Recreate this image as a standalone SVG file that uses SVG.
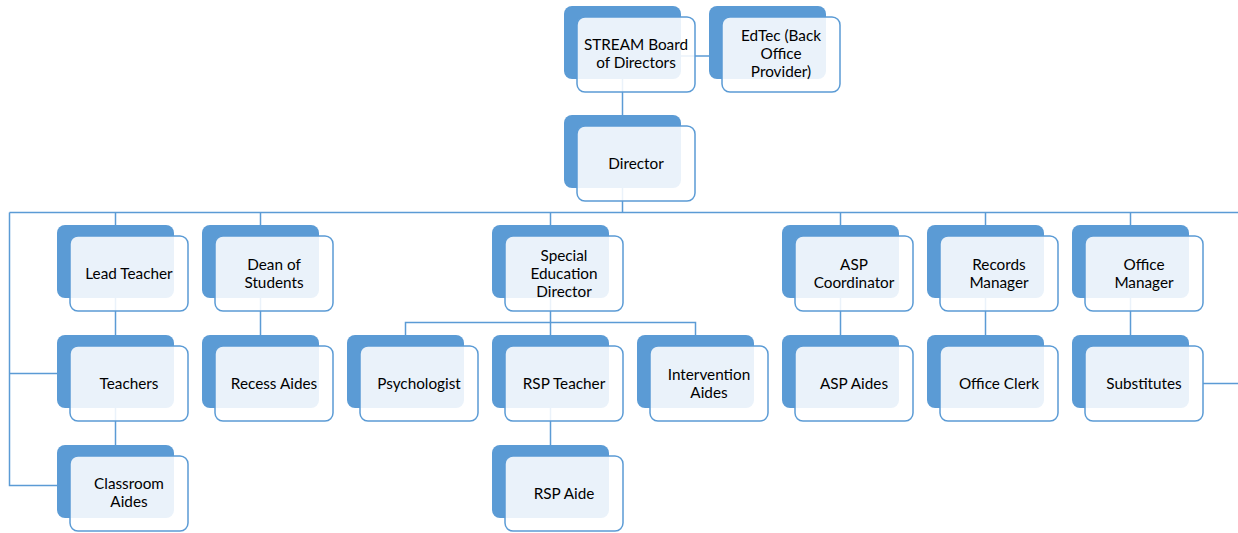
<svg xmlns="http://www.w3.org/2000/svg" width="1238" height="533" viewBox="0 0 1238 533">
<style>
.bk{fill:#5B9BD5}
.fr{fill:#FFFFFF;fill-opacity:0.87;stroke:#5B9BD5;stroke-width:1.5}
.t{font-family:Lato,"Open Sans","Liberation Sans",sans-serif;font-size:15.3px;fill:#000;text-anchor:middle}
.c{fill:none;stroke:#5B9BD5;stroke-width:1.5}
</style>
<rect width="1238" height="533" fill="#fff"/>
<g id="connectors">
<path class="c" d="M622.5 79V115M681 56H709M622.5 188V212.5M9.5 212.5H1238M115.5 212.5V225M260.5 212.5V225M550.5 212.5V225M840.5 212.5V225M985.5 212.5V225M1130.5 212.5V225"/>
<path class="c" d="M9.5 212.5V485.5H57M9.5 373.5H57"/>
<path class="c" d="M115.5 298V335M115.5 408V445M260.5 298V335M550.5 298V335M405.5 335V322.5H695.5V335M550.5 408V445M840.5 298V335M985.5 298V335M1130.5 298V335M1203 383.5H1238"/>
</g>
<g id="n-board"><rect class="bk" x="564" y="6" width="117" height="73" rx="8"/><rect class="fr" x="577" y="17" width="118" height="75" rx="8"/><text class="t" x="636" y="50">STREAM Board</text><text class="t" x="636" y="68">of Directors</text></g>
<g id="n-edtec"><rect class="bk" x="709" y="6" width="117" height="73" rx="8"/><rect class="fr" x="722" y="17" width="118" height="75" rx="8"/><text class="t" x="781" y="41">EdTec (Back</text><text class="t" x="781" y="59">Office</text><text class="t" x="781" y="77">Provider)</text></g>
<g id="n-director"><rect class="bk" x="564" y="115" width="117" height="73" rx="8"/><rect class="fr" x="577" y="126" width="118" height="75" rx="8"/><text class="t" x="636" y="169">Director</text></g>
<g id="n-lead"><rect class="bk" x="57" y="225" width="117" height="73" rx="8"/><rect class="fr" x="70" y="236" width="118" height="75" rx="8"/><text class="t" x="129" y="279">Lead Teacher</text></g>
<g id="n-teachers"><rect class="bk" x="57" y="335" width="117" height="73" rx="8"/><rect class="fr" x="70" y="346" width="118" height="75" rx="8"/><text class="t" x="129" y="389">Teachers</text></g>
<g id="n-classroom"><rect class="bk" x="57" y="445" width="117" height="73" rx="8"/><rect class="fr" x="70" y="456" width="118" height="75" rx="8"/><text class="t" x="129" y="489">Classroom</text><text class="t" x="129" y="507">Aides</text></g>
<g id="n-dean"><rect class="bk" x="202" y="225" width="117" height="73" rx="8"/><rect class="fr" x="215" y="236" width="118" height="75" rx="8"/><text class="t" x="274" y="270">Dean of</text><text class="t" x="274" y="288">Students</text></g>
<g id="n-recess"><rect class="bk" x="202" y="335" width="117" height="73" rx="8"/><rect class="fr" x="215" y="346" width="118" height="75" rx="8"/><text class="t" x="274" y="389">Recess Aides</text></g>
<g id="n-sped"><rect class="bk" x="492" y="225" width="117" height="73" rx="8"/><rect class="fr" x="505" y="236" width="118" height="75" rx="8"/><text class="t" x="564" y="261">Special</text><text class="t" x="564" y="279">Education</text><text class="t" x="564" y="297">Director</text></g>
<g id="n-psych"><rect class="bk" x="347" y="335" width="117" height="73" rx="8"/><rect class="fr" x="360" y="346" width="118" height="75" rx="8"/><text class="t" x="419" y="389">Psychologist</text></g>
<g id="n-rsp"><rect class="bk" x="492" y="335" width="117" height="73" rx="8"/><rect class="fr" x="505" y="346" width="118" height="75" rx="8"/><text class="t" x="564" y="389">RSP Teacher</text></g>
<g id="n-intervention"><rect class="bk" x="637" y="335" width="117" height="73" rx="8"/><rect class="fr" x="650" y="346" width="118" height="75" rx="8"/><text class="t" x="709" y="380">Intervention</text><text class="t" x="709" y="398">Aides</text></g>
<g id="n-rspaide"><rect class="bk" x="492" y="445" width="117" height="73" rx="8"/><rect class="fr" x="505" y="456" width="118" height="75" rx="8"/><text class="t" x="564" y="499">RSP Aide</text></g>
<g id="n-asp"><rect class="bk" x="782" y="225" width="117" height="73" rx="8"/><rect class="fr" x="795" y="236" width="118" height="75" rx="8"/><text class="t" x="854" y="270">ASP</text><text class="t" x="854" y="288">Coordinator</text></g>
<g id="n-aspaides"><rect class="bk" x="782" y="335" width="117" height="73" rx="8"/><rect class="fr" x="795" y="346" width="118" height="75" rx="8"/><text class="t" x="854" y="389">ASP Aides</text></g>
<g id="n-records"><rect class="bk" x="927" y="225" width="117" height="73" rx="8"/><rect class="fr" x="940" y="236" width="118" height="75" rx="8"/><text class="t" x="999" y="270">Records</text><text class="t" x="999" y="288">Manager</text></g>
<g id="n-clerk"><rect class="bk" x="927" y="335" width="117" height="73" rx="8"/><rect class="fr" x="940" y="346" width="118" height="75" rx="8"/><text class="t" x="999" y="389">Office Clerk</text></g>
<g id="n-officemgr"><rect class="bk" x="1072" y="225" width="117" height="73" rx="8"/><rect class="fr" x="1085" y="236" width="118" height="75" rx="8"/><text class="t" x="1144" y="270">Office</text><text class="t" x="1144" y="288">Manager</text></g>
<g id="n-subs"><rect class="bk" x="1072" y="335" width="117" height="73" rx="8"/><rect class="fr" x="1085" y="346" width="118" height="75" rx="8"/><text class="t" x="1144" y="389">Substitutes</text></g>
</svg>
